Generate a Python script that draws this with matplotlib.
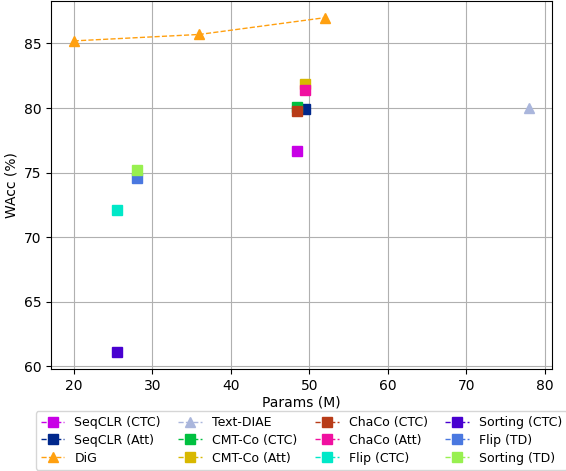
import matplotlib
matplotlib.use("Agg")
import matplotlib.pyplot as plt

labels = ["SeqCLR (CTC)", "SeqCLR (Att)", "DiG", "Text-DIAE", "CMT-Co (CTC)", "CMT-Co (Att)",
          "ChaCo (CTC)", "ChaCo (Att)", "Flip (CTC)", "Sorting (CTC)", "Flip (TD)", "Sorting (TD)"]
params = [[48.5], [49.5], [20, 36, 52], [78], [48.5], [49.5],
          [48.5], [49.5], [25.5], [25.5], [28], [28]]
wacc = [[76.7], [79.9], [85.2, 85.7, 87.0], [80.0], [80.1], [81.9],
        [79.8], [81.4], [72.1], [61.1], [74.6], [75.2]]
markers = ["s", "s", "^", "^", "s", "s", "s", "s", "s", "s", "s", "s"]
colors = ["#c800e6", "#00288c", "#ffa010", "#aab6dc", "#00c040", "#d8b800",
          "#b83c18", "#f010a0", "#00e8c8", "#4800d0", "#4a78e0", "#98f050"]

fig = plt.figure(figsize=(5.66, 4.71), dpi=100)
ax = fig.add_axes([0.09, 0.217, 0.885, 0.781])
for lab, x, y, m, c in zip(labels, params, wacc, markers, colors):
    ax.plot(x, y, linestyle="--", marker=m, color=c, markersize=7, linewidth=1, label=lab)

ax.set_xlabel("Params (M)", labelpad=2)
ax.set_ylabel("WAcc (%)")
ax.grid(True)
ax.set_xticks([20, 30, 40, 50, 60, 70, 80])
ax.set_yticks([60, 65, 70, 75, 80, 85])
ax.legend(loc="upper center", bbox_to_anchor=(0.5, -0.098), ncol=4, fontsize=9,
          handlelength=1.9, columnspacing=1.4, borderpad=0.4, labelspacing=0.38)
fig.savefig("out.png", dpi=100)
